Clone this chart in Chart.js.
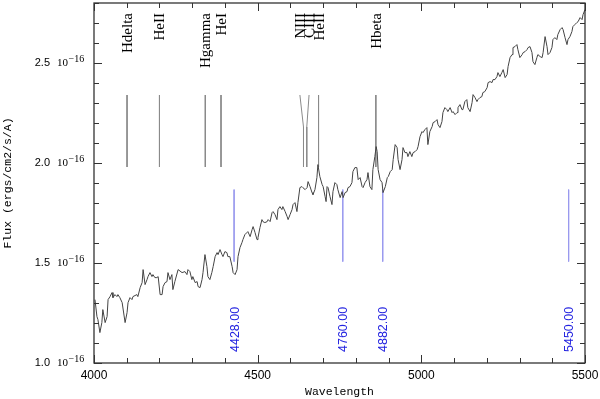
<!DOCTYPE html>
<html><head><meta charset="utf-8">
<script src="https://cdn.jsdelivr.net/npm/chart.js@4/dist/chart.umd.min.js"></script>
<style>html,body{margin:0;padding:0;background:#fff;} canvas{display:block;}</style>
</head><body>
<canvas id="c" width="600" height="399"></canvas>
<script>
// ---- data ----
const waves = [
  4003,4009,4012,4018,4024,4027,4034,4040,4043,4049,4055,4058,4064,4070,4073,4079,4086,4095,4101,4104,4110,4116,4119,4131,4134,4141,4147,4150,4156,4162,4165,4171,4177,4180,4186,4192,4196,4202,4208,4211,4217,4223,4226,4232,4238,4241,4247,
  4257,4269,4278,4284,4287,4293,4299,4302,4309,4315,4318,4324,4330,4333,4339,4345,4348,4354,4360,4364,4370,4376,4379,4385,4391,4394,4400,4406,4409,4415,4422,4425,4431,4437,4440,4446,4452,4455,4461,4467,4470,4477,4483,4486,4492,
  4498,4501,4507,4513,4516,4522,4529,4532,4538,4544,4547,4553,4559,4562,4568,4574,4577,4584,4590,4593,4599,4605,4608,4614,4620,4623,4629,4635,4638,4645,4651,4654,4660,4666,4669,4675,4681,4684,4690,4697,4700,4706,4709,4712,4715,4721,4727,4730,4736,4742,4745,4752,
  4758,4761,4767,4773,4776,4782,4788,4791,4797,4803,4807,4813,4819,4822,4828,4834,4837,4843,4849,4852,4858,4862,4865,4868,4874,4880,4883,4890,4896,4899,4905,4911,4914,4920,4926,4929,4935,4941,4944,4950,4956,4959,4965,4971,4975,4981,4987,4990,4996,5002,5005,5011,5017,5020,5026,
  5033,5036,5042,5048,5051,5057,5063,5066,5072,5078,5081,5088,5094,5097,5103,5109,5112,5118,5124,5127,5133,5139,5142,5149,5155,5158,5164,5170,5173,5179,5185,5188,5194,5201,5204,5210,5216,5219,5225,5231,5234,5240,5246,5250,
  5256,5262,5265,5271,5277,5280,5286,5292,5295,5301,5308,5311,5317,5323,5326,5332,5338,5341,5347,5353,5356,5363,5369,5372,5378,5384,5387,5393,5399,5402,5408,5414,5417,5424,5430,5433,5439,5445,5448,5454,5460,5463,5469,5475,5479,5485,5491,5494,5500
];
const flux = [
  1.317,1.232,1.217,1.152,1.202,1.267,1.202,1.232,1.317,1.332,1.352,1.327,1.342,1.332,1.342,1.327,1.302,1.202,1.252,1.302,1.327,1.317,1.332,1.342,1.332,1.377,1.402,1.467,1.392,1.417,1.432,1.452,1.432,1.442,1.427,1.427,1.432,1.342,1.342,1.382,1.402,1.407,1.452,1.417,1.442,1.367,1.407,
  1.467,1.452,1.457,1.442,1.467,1.457,1.417,1.432,1.402,1.407,1.382,1.377,1.417,1.452,1.542,1.482,1.432,1.417,1.452,1.482,1.532,1.552,1.542,1.567,1.542,1.532,1.557,1.552,1.532,1.532,1.482,1.452,1.442,1.467,1.532,1.577,1.602,1.617,1.642,1.652,1.657,1.632,1.667,1.682,1.652,
  1.617,1.627,1.677,1.717,1.707,1.702,1.707,1.717,1.707,1.752,1.757,1.742,1.717,1.767,1.782,1.767,1.782,1.757,1.732,1.717,1.742,1.767,1.792,1.802,1.757,1.802,1.877,1.882,1.877,1.867,1.877,1.907,1.882,1.852,1.842,1.867,1.927,1.992,1.932,1.892,1.882,1.832,1.807,1.882,1.877,1.832,1.792,1.857,1.902,1.892,1.867,1.827,
  1.857,1.827,1.852,1.857,1.877,1.882,1.902,1.957,1.977,1.977,1.917,1.927,1.882,1.877,1.902,1.917,1.952,1.882,1.867,1.967,2.032,2.082,2.057,1.967,1.917,1.902,1.852,1.882,1.927,1.932,1.957,1.967,2.017,2.092,2.077,2.017,1.967,2.017,2.077,2.052,2.052,2.032,2.057,2.032,2.052,2.057,2.067,2.082,2.132,2.157,2.152,2.167,2.177,2.092,2.157,
  2.182,2.202,2.207,2.217,2.192,2.177,2.207,2.252,2.277,2.267,2.257,2.277,2.252,2.257,2.242,2.252,2.277,2.292,2.267,2.267,2.307,2.317,2.277,2.257,2.302,2.342,2.327,2.307,2.317,2.327,2.332,2.352,2.357,2.377,2.402,2.407,2.402,2.417,2.417,2.432,2.452,2.432,2.452,2.467,
  2.427,2.442,2.482,2.527,2.542,2.577,2.582,2.592,2.567,2.527,2.542,2.552,2.557,2.567,2.577,2.582,2.552,2.507,2.492,2.527,2.542,2.532,2.527,2.552,2.632,2.582,2.542,2.552,2.577,2.617,2.627,2.617,2.642,2.667,2.677,2.667,2.627,2.592,2.617,2.632,2.657,2.682,2.692,2.702,2.707,2.727,2.717,2.742,2.767
];
const idWaves      = [4101, 4200, 4340, 4388, 4640, 4650, 4686, 4861];
const idLabelWaves = [4101, 4200, 4340, 4388, 4629, 4657, 4686, 4861];
const idLabels     = ['Hdelta','HeII','Hgamma','HeI','NIII','CIII','HeII','Hbeta'];
const markWaves  = [4428, 4760, 4882, 5450];
const markLabels = ['4428.00','4760.00','4882.00','5450.00'];
const xTicks = [4000, 4500, 5000, 5500];
const yTicks = [1.0, 1.5, 2.0, 2.5];
const yTickLabels = ['1.0', '1.5', '2.0', '2.5'];
const yExponent = '\u221216';

// ---- datasets built from the arrays ----
const ID_TOP = 2.34, ID_BEND = 2.18, ID_BOTTOM = 1.98;
const MARK_TOP = 1.867, MARK_BOTTOM = 1.507;

const specData = waves.map((w, i) => ({x: w, y: flux[i]}));
const idData = [];
idWaves.forEach((w, i) => {
  idData.push({x: idLabelWaves[i], y: ID_TOP}, {x: w, y: ID_BEND}, {x: w, y: ID_BOTTOM}, {x: w, y: null});
});
const markData = [];
markWaves.forEach(w => { markData.push({x: w, y: MARK_TOP}, {x: w, y: MARK_BOTTOM}, {x: w, y: null}); });

const decor = {
  id: 'decor',
  afterDraw(chart) {
    const {ctx, chartArea: a, scales: {x, y}} = chart;
    ctx.save();
    // frame
    ctx.strokeStyle = '#333';
    ctx.lineWidth = 1.3;
    ctx.strokeRect(a.left, a.top, a.right - a.left, a.bottom - a.top);
    ctx.lineWidth = 1;
    ctx.beginPath();
    for (let w = 4000; w <= 5500; w += 100) {
      const px = Math.round(x.getPixelForValue(w)) + 0.5;
      const len = (w % 500 === 0) ? 8 : 5;
      ctx.moveTo(px, a.bottom); ctx.lineTo(px, a.bottom - len);
      ctx.moveTo(px, a.top); ctx.lineTo(px, a.top + len);
    }
    for (let k = 10; k <= 28; k++) {
      const py = Math.round(y.getPixelForValue(k / 10)) + 0.5;
      const len = (k % 5 === 0) ? 8 : 5;
      ctx.moveTo(a.left, py); ctx.lineTo(a.left + len, py);
      ctx.moveTo(a.right, py); ctx.lineTo(a.right - len, py);
    }
    ctx.stroke();
    // y tick labels
    ctx.fillStyle = '#000';
    yTicks.forEach((v, i) => {
      const py = y.getPixelForValue(v);
      ctx.font = '11px "Liberation Sans"';
      ctx.textAlign = 'right'; ctx.textBaseline = 'middle';
      ctx.fillText(yTickLabels[i], 50, py);
      ctx.textAlign = 'left';
      ctx.font = '11px "Liberation Serif"';
      ctx.fillText('10', 57, py);
      ctx.font = '10px "Liberation Serif"';
      ctx.fillText(yExponent, 68.5, py - 4);
    });
    // line identification labels
    ctx.font = '15px "Liberation Serif"';
    ctx.fillStyle = '#000';
    idLabels.forEach((t, i) => {
      const px = x.getPixelForValue(idLabelWaves[i]);
      ctx.save();
      ctx.translate(px, 13);
      ctx.rotate(-Math.PI / 2);
      ctx.textAlign = 'right'; ctx.textBaseline = 'alphabetic';
      ctx.fillText(t, 0, 5);
      ctx.restore();
    });
    // blue marker labels
    ctx.font = '12.5px "Liberation Sans"';
    ctx.fillStyle = '#2323e0';
    markLabels.forEach((t, i) => {
      const px = x.getPixelForValue(markWaves[i]);
      ctx.save();
      ctx.translate(px, 352);
      ctx.rotate(-Math.PI / 2);
      ctx.textAlign = 'left'; ctx.textBaseline = 'alphabetic';
      ctx.fillText(t, 0, 4.5);
      ctx.restore();
    });
    ctx.restore();
  }
};

new Chart(document.getElementById('c'), {
  type: 'line',
  data: {
    datasets: [
      {data: specData, borderColor: '#444', borderWidth: 1, pointRadius: 0, tension: 0, spanGaps: false},
      {data: idData, borderColor: '#8a8a8a', borderWidth: 1, pointRadius: 0, tension: 0, spanGaps: false},
      {data: markData, borderColor: '#9a9aee', borderWidth: 1, pointRadius: 0, tension: 0, spanGaps: false}
    ]
  },
  options: {
    responsive: false,
    animation: false,
    devicePixelRatio: 1,
    layout: {padding: {left: 0, right: 15, top: 3, bottom: 0}},
    plugins: {legend: {display: false}, tooltip: {enabled: false}},
    scales: {
      x: {
        type: 'linear', min: 4000, max: 5500,
        afterBuildTicks: s => { s.ticks = xTicks.map(v => ({value: v})); },
        afterFit: s => { s.height = 36; s.paddingLeft = 0; s.paddingRight = 0; },
        grid: {display: false, drawTicks: false},
        border: {display: false},
        ticks: {color: '#000', font: {family: 'Liberation Sans', size: 12}, padding: 5, maxRotation: 0,
                callback: v => String(v)},
        title: {display: true, text: 'Wavelength', color: '#000', font: {family: 'Liberation Mono', size: 11.5}, padding: {top: 0, bottom: 0}}
      },
      y: {
        type: 'linear', min: 1.0, max: 2.8,
        afterFit: s => { s.width = 94; s.paddingTop = 0; s.paddingBottom = 0; },
        grid: {display: false, drawTicks: false},
        border: {display: false},
        ticks: {display: false},
        title: {display: true, text: 'Flux (ergs/cm2/s/A)', color: '#000', font: {family: 'Liberation Mono', size: 11.5}, padding: {top: 1, bottom: 0}}
      }
    }
  },
  plugins: [decor]
});
</script>
</body></html>
